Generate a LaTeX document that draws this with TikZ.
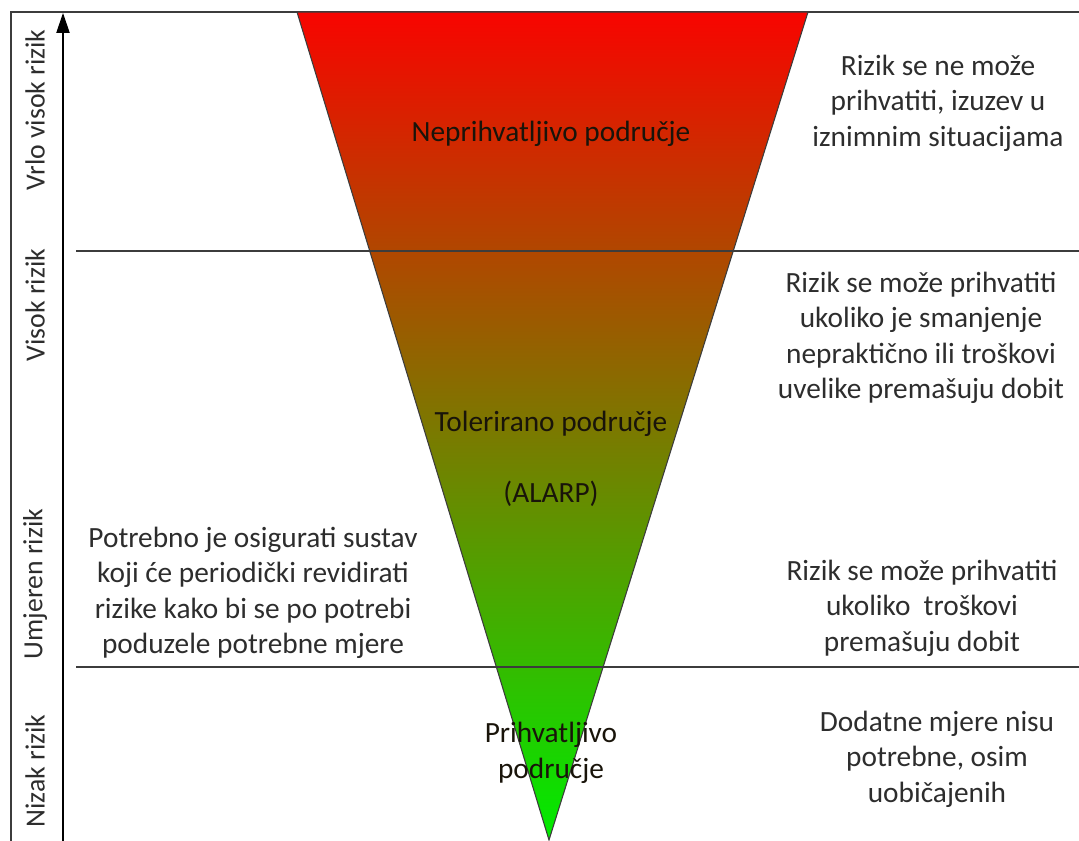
\documentclass[tikz,border=0pt]{standalone}
\usepackage{fontspec}
\setmainfont{Carlito}
\usetikzlibrary{arrows.meta}
\definecolor{topred}{RGB}{248,4,0}
\definecolor{botgreen}{RGB}{0,236,0}
\definecolor{txt}{RGB}{45,45,45}
\definecolor{zonetxt}{RGB}{25,20,10}
\definecolor{framecol}{RGB}{60,60,60}
\begin{document}
\begin{tikzpicture}[x=0.75pt,y=-0.75pt,
  desc/.style={font=\fontsize{22}{26.6}\selectfont, text=txt, align=center, inner sep=0pt},
  zone/.style={font=\fontsize{22}{26.6}\selectfont, text=zonetxt, align=center, inner sep=0pt},
  axlabel/.style={font=\fontsize{20.8}{24}\selectfont, text=txt, rotate=90, inner sep=0pt},
  rule/.style={draw=framecol, line width=1.1pt},
  edge/.style={draw=framecol, line width=0.8pt},
  axisarrow/.style={draw=black, line width=0.9pt, -{Triangle[length=15pt,width=10pt]}}]
\useasboundingbox (0,0) rectangle (1079,841);
% frame
\coordinate (fTL) at (11,12);
\coordinate (fTR) at (1079,12);
\coordinate (fBL) at (11,841);
\draw[rule] (fBL) -- (fTL) -- (fTR);
% triangle
\coordinate (tL) at (297,12);
\coordinate (tR) at (808,12);
\coordinate (tB) at (549,840);
\shade[top color=topred, bottom color=botgreen] (tL) -- (tR) -- (tB) -- cycle;
\draw[edge] (tL) -- (tR) -- (tB) -- cycle;
% horizontal separators
\coordinate (h1a) at (76,251);
\coordinate (h1b) at (1079,251);
\coordinate (h2a) at (76,667);
\coordinate (h2b) at (1079,667);
\draw[rule] (h1a) -- (h1b);
\draw[rule] (h2a) -- (h2b);
% axis
\coordinate (axB) at (63,841);
\coordinate (axT) at (63,13);
\draw[axisarrow] (axB) -- (axT);
% axis labels
\node[axlabel] (a1) at (35,110) {Vrlo visok rizik};
\node[axlabel] (a2) at (35,305) {Visok rizik};
\node[axlabel] (a3) at (35,584) {Umjeren rizik};
\node[axlabel] (a4) at (35,771) {Nizak rizik};
% zone labels
\node[zone] (z1) at (551,134) {Neprihvatljivo područje};
\node[zone] (z2) at (551,424) {Tolerirano područje};
\node[zone] (z3) at (551,494) {(ALARP)};
\node[zone] (z4) at (551,753) {Prihvatljivo\\područje};
% descriptions
\node[desc] (r1) at (938,103) {Rizik se ne može\\prihvatiti, izuzev u\\iznimnim situacijama};
\node[desc] (r2) at (921,338) {Rizik se može prihvatiti\\ukoliko je smanjenje\\nepraktično ili troškovi\\uvelike premašuju dobit};
\node[desc] (r3) at (922,608) {Rizik se može prihvatiti\\ukoliko\ \ troškovi\\premašuju dobit};
\node[desc] (r4) at (937,759) {Dodatne mjere nisu\\potrebne, osim\\uobičajenih};
\node[desc] (l1) at (253,593) {Potrebno je osigurati sustav\\koji će periodički revidirati\\rizike kako bi se po potrebi\\poduzele potrebne mjere};
\end{tikzpicture}
\end{document}
